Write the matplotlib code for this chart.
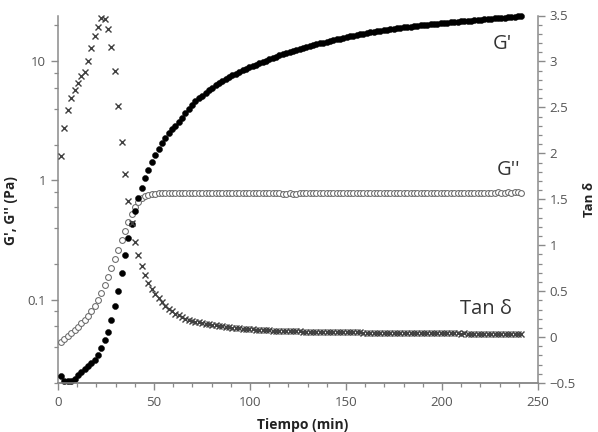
import numpy as np
import matplotlib
matplotlib.use('Agg')
import matplotlib.pyplot as plt
from matplotlib.ticker import LogLocator, FixedLocator, MultipleLocator, FuncFormatter, NullFormatter

plt.rcParams['font.family'] = ['Open Sans', 'DejaVu Sans']

# medida cada 1.75 min, empezando en 1.6 min
t_inicio = 1.6
paso = 1.75

g_prima = [0.0227, 0.0209, 0.0206, 0.0209, 0.0218, 0.0233, 0.0247, 0.0261, 0.0276, 0.0292,
           0.0313, 0.0341, 0.0391, 0.0456, 0.054, 0.067, 0.0887,
           0.119, 0.169, 0.237, 0.328, 0.429, 0.555, 0.709, 0.860, 1.043, 1.225, 1.438, 1.636,
           1.826, 2.050, 2.258,
           2.487, 2.677, 2.847, 3.093, 3.361, 3.659, 3.976, 4.295, 4.620,
           4.896, 5.159, 5.435, 5.714, 6.008, 6.293, 6.567, 6.839, 7.094, 7.344,
           7.603, 7.857, 8.119, 8.374, 8.652, 8.889, 9.114, 9.366, 9.621, 9.865,
           10.14, 10.39, 10.66, 10.93, 11.20, 11.45, 11.69, 11.92, 12.15, 12.39,
           12.63, 12.87, 13.13, 13.36, 13.62, 13.86, 14.10, 14.32, 14.54, 14.77,
           15.00, 15.23, 15.47, 15.71, 15.95, 16.17, 16.39, 16.61, 16.84, 17.07,
           17.27, 17.47, 17.64, 17.84, 18.05, 18.23, 18.40, 18.58, 18.76, 18.91,
           19.09, 19.24, 19.39, 19.54, 19.69, 19.84, 19.96, 20.11, 20.27, 20.42,
           20.54, 20.66, 20.82, 20.94, 21.07, 21.19, 21.31, 21.43, 21.56, 21.68,
           21.81, 21.94, 22.07, 22.19, 22.32, 22.45, 22.58, 22.71, 22.85, 22.98,
           23.11, 23.25, 23.38, 23.56, 23.70, 23.88, 24.07]

g_segunda = [0.0443, 0.0469, 0.0497, 0.0527, 0.0558, 0.0592, 0.0633, 0.0677, 0.0731, 0.0798,
             0.0887, 0.0996, 0.114, 0.132, 0.155, 0.185, 0.220, 0.262, 0.314, 0.377,
             0.449, 0.524, 0.600, 0.660, 0.707, 0.737, 0.756, 0.768, 0.775, 0.781,
             0.785, 0.787, 0.788, 0.789, 0.790, 0.790, 0.791, 0.791, 0.790, 0.791,
             0.791, 0.790, 0.791, 0.790, 0.791, 0.790, 0.789, 0.790, 0.790, 0.789, 0.788,
             0.783, 0.782, 0.782, 0.781, 0.782, 0.781, 0.781, 0.782, 0.781, 0.782,
             0.781, 0.781, 0.780, 0.781,
             0.778, 0.777, 0.777, 0.778, 0.777, 0.777,
             0.785, 0.786, 0.786, 0.787, 0.786, 0.786, 0.787, 0.786, 0.787, 0.787,
             0.786, 0.787, 0.787, 0.786, 0.787, 0.787, 0.788, 0.787, 0.787, 0.788,
             0.787, 0.788, 0.788, 0.787, 0.788, 0.788, 0.787, 0.788, 0.788, 0.789,
             0.789, 0.790, 0.790, 0.789, 0.790, 0.790, 0.791, 0.790, 0.790, 0.791,
             0.790, 0.791, 0.791, 0.790, 0.791, 0.791, 0.792, 0.791, 0.791, 0.792,
             0.791, 0.792, 0.792, 0.791, 0.792, 0.792, 0.791, 0.792, 0.792, 0.793,
             0.792, 0.792, 0.793, 0.792, 0.793, 0.793, 0.792]

tan_delta = [1.97, 2.28, 2.47, 2.60, 2.69, 2.77, 2.84, 2.89, 3.00, 3.15,
             3.28, 3.38, 3.47, 3.46, 3.35, 3.16, 2.90, 2.52, 2.12, 1.77,
             1.48, 1.24, 1.04, 0.89, 0.775, 0.675, 0.59, 0.525, 0.465, 0.42,
             0.38, 0.34, 0.31, 0.28, 0.255, 0.237, 0.218, 0.200, 0.188, 0.178,
             0.168, 0.160,
             0.153, 0.146, 0.140, 0.134, 0.128, 0.122, 0.117, 0.112, 0.107, 0.103,
             0.099, 0.095, 0.092, 0.089, 0.086, 0.083, 0.081, 0.078, 0.076, 0.074,
             0.072, 0.070, 0.068, 0.067, 0.066, 0.065, 0.064, 0.063, 0.062,
             0.061, 0.060, 0.059, 0.058, 0.057, 0.056, 0.056, 0.055, 0.054, 0.054,
             0.053, 0.053, 0.052, 0.052, 0.051, 0.051, 0.050, 0.050, 0.050, 0.049,
             0.049, 0.049, 0.048, 0.048, 0.048, 0.047, 0.047, 0.047, 0.047, 0.046,
             0.046, 0.046, 0.046, 0.046, 0.045, 0.045, 0.046, 0.045, 0.045, 0.045,
             0.045, 0.044, 0.044, 0.043,
             0.040, 0.039, 0.039, 0.039, 0.038, 0.039, 0.038, 0.038, 0.038, 0.038,
             0.037, 0.038, 0.037, 0.037, 0.037, 0.037, 0.037, 0.036, 0.037, 0.036,
             0.036, 0.036, 0.036]

assert len(g_prima) == len(g_segunda) == len(tan_delta)
tiempo = t_inicio + paso * np.arange(len(g_prima))

gris = '#8a8a8a'
gris_txt = '#555555'

fig = plt.figure(figsize=(5.98, 4.32), dpi=100)
ax = fig.add_axes([58 / 598, 1 - 383 / 432, 480 / 598, 367.5 / 432])
ax2 = ax.twinx()

ax.plot(tiempo, g_segunda, 'o', ms=4.2, mfc='white', mec='#6a6a6a', mew=0.75, clip_on=False, zorder=3)
ax.plot(tiempo, g_prima, 'o', ms=4.4, mfc='black', mec='black', mew=0.3, clip_on=False, zorder=4)
ax2.plot(tiempo, tan_delta, 'x', ms=4.0, color='#404040', mew=1.0, clip_on=False)

ax.set_yscale('log')
ax.set_ylim(0.02, 24.2)
ax.set_xlim(0, 250)
ax2.set_ylim(-0.5, 3.5)

ax.yaxis.set_major_locator(FixedLocator([0.1, 1, 10]))
ax.yaxis.set_major_formatter(FuncFormatter(lambda v, p: f'{v:g}'))
ax.yaxis.set_minor_locator(LogLocator(base=10, subs=[2, 4, 6, 8]))
ax.yaxis.set_minor_formatter(NullFormatter())
ax.xaxis.set_major_locator(MultipleLocator(50))
ax.xaxis.set_minor_locator(MultipleLocator(10))
ax2.yaxis.set_major_locator(MultipleLocator(0.5))
ax2.yaxis.set_minor_locator(MultipleLocator(0.1))
ax2.yaxis.set_major_formatter(FuncFormatter(lambda v, p: f'{v:g}'.replace('-', '\u2212')))

for a in (ax, ax2):
    a.spines['top'].set_visible(False)
    for s in a.spines.values():
        s.set_color(gris)
        s.set_linewidth(1.1)
    a.tick_params(which='major', direction='out', length=5, width=1, color=gris,
                  labelcolor=gris_txt, labelsize=9.5)
    a.tick_params(which='minor', direction='out', length=3, width=0.9, color=gris)
ax.spines['right'].set_visible(False)
ax2.spines['left'].set_visible(False)
ax.tick_params(axis='x', pad=4)

ax.set_xlabel('Tiempo (min)', fontsize=10, fontweight='bold', color='#222222')
ax.set_ylabel("G', G'' (Pa)", fontsize=10, fontweight='bold', color='#222222')
ax2.set_ylabel('Tan δ', fontsize=9.5, fontweight='bold', color='#222222', rotation=90)
ax.xaxis.set_label_coords(0.509, -0.095)
ax.yaxis.set_label_coords(-0.083, 0.47)
ax2.yaxis.set_label_coords(1.094, 0.5)

ax2.text(226.5, 3.19, "G'", fontsize=14.5, color='#333333', va='center', ha='left')
ax2.text(228.5, 1.82, "G''", fontsize=14.5, color='#333333', va='center', ha='left')
ax2.text(209.5, 0.30, 'Tan δ', fontsize=14.5, color='#333333', va='center', ha='left')

fig.savefig('out.png', dpi=100)
